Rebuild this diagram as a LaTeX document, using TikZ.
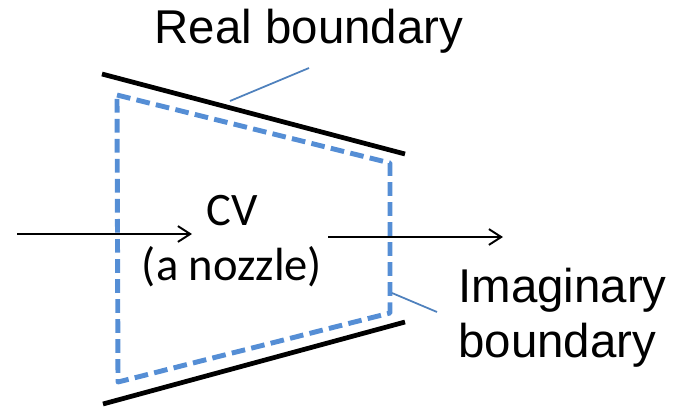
\documentclass[tikz,border=0pt]{standalone}
\usepackage{fontspec}
\setmainfont{Liberation Sans}
\newfontfamily\calibri{Carlito}
\usetikzlibrary{arrows.meta, positioning, calc}

\definecolor{cvblue}{RGB}{85,142,213}
\definecolor{leadblue}{RGB}{79,129,189}

\begin{document}
\begin{tikzpicture}[
    x=0.02cm, y=-0.02cm,
    wall/.style={line width=2.7pt, black},
    cvline/.style={line width=2.8pt, cvblue, dash pattern=on 7.8pt off 3.6pt, line join=round},
    leader/.style={line width=1pt, leadblue},
    flow/.style={-{Straight Barb[length=7pt, width=9pt, line width=1.1pt]}, line width=1.1pt},
    label/.style={font=\fontsize{27}{31}\selectfont, inner sep=0pt},
    cvtext/.style={font=\calibri\fontsize{26.5}{31}\selectfont, inner sep=0pt}
]
\useasboundingbox (0,0) rectangle (673,406);

% --- Real boundary (nozzle walls) ---
\coordinate (wtl) at (102,74);
\coordinate (wtr) at (405,154);
\coordinate (wbl) at (103,404);
\coordinate (wbr) at (405,322);
\draw[wall] (wtl) -- (wtr);
\draw[wall] (wbl) -- (wbr);

% --- Control volume (imaginary boundary) ---
\coordinate (cvtl) at (117,95);
\coordinate (cvtr) at (390,163);
\coordinate (cvbr) at (390,313);
\coordinate (cvbl) at (118,382);
\draw[cvline] (cvtl) -- (cvtr) -- (cvbr) -- (cvbl) -- cycle;

% --- Labels ---
\node[label, anchor=base] (real) at (309,43) {Real boundary};
\node[label, anchor=base west] (imag) at (458,302) {Imaginary};
\node[label, anchor=base west] (imagb) at (458,357) {boundary};
\node[cvtext, anchor=base] (cv) at (232,225) {CV};
\node[cvtext, anchor=base] (cvnote) at (232,280) {(a nozzle)};

% --- Leader lines ---
\coordinate (realtip) at (230,101);
\coordinate (realend) at (309,68);
\draw[leader] (realtip) -- (realend);
\coordinate (imagtip) at (392,293);
\coordinate (imagend) at (437,312);
\draw[leader] (imagtip) -- (imagend);

% --- Flow in and out ---
\coordinate (inflow) at (17,234);
\coordinate (inend) at (192,234);
\coordinate (outflow) at (328,237);
\coordinate (outend) at (503,237);
\draw[flow] (inflow) -- (inend);
\draw[flow] (outflow) -- (outend);

\end{tikzpicture}
\end{document}
